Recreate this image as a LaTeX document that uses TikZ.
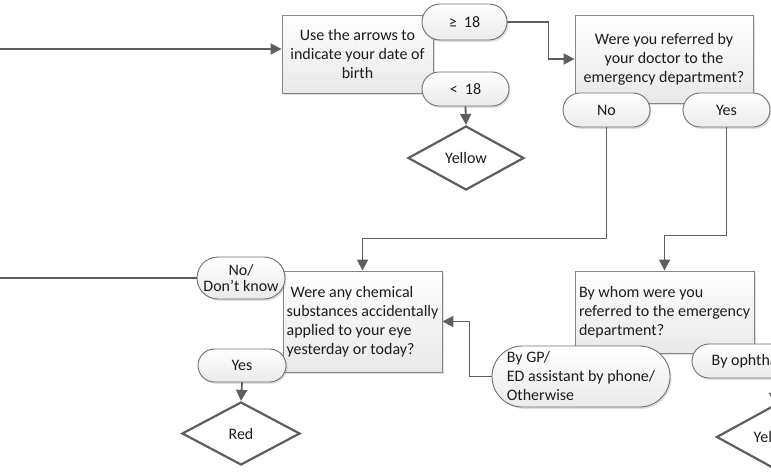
\documentclass[tikz,border=0pt]{standalone}
\usepackage{fontspec}
\setmainfont{Carlito}
\usetikzlibrary{shapes.geometric,shapes.misc,arrows.meta,shadows}

\definecolor{lineclr}{HTML}{5E5E5E}
\definecolor{boxline}{HTML}{868686}
\definecolor{pillline}{HTML}{707070}
\definecolor{txt}{HTML}{1C1C1C}

\tikzset{
  every node/.style={font=\fontsize{16}{19}\selectfont, text=txt},
  softshadow/.style={drop shadow={shadow xshift=1.5pt, shadow yshift=-1.8pt, opacity=0.22, fill=black!60}},
  qbox/.style={rectangle, draw=boxline, line width=0.9pt, top color=white,
    bottom color=black!9, inner sep=0pt, softshadow},
  pill/.style={rounded rectangle, draw=pillline, line width=0.9pt, top color=white,
    bottom color=black!8, inner sep=0pt, softshadow},
  outcome/.style={diamond, draw=lineclr, line width=2.2pt, fill=white, inner sep=0pt,
    minimum width=116pt, minimum height=64pt},
  link/.style={draw=lineclr, line width=1.8pt},
  conn/.style={link, -{Triangle[length=11pt,width=11pt]}}
}

\begin{document}
\begin{tikzpicture}[x=1pt,y=-1pt]
\useasboundingbox (0,0) rectangle (771,473);
\clip (0,0) rectangle (771,473);

% question boxes
\node[qbox, minimum width=151pt, minimum height=78pt, align=center] (dob) at (357.5,54)
  {Use the arrows to\\indicate your date of\\birth};
\node[qbox, minimum width=178pt, minimum height=88pt, align=center] (ref) at (664,59)
  {Were you referred by\\your doctor to the\\emergency department?};
\node[qbox, minimum width=159pt, minimum height=101pt, align=left] (chem) at (362.5,321.5)
  {\hspace*{4pt}Were any chemical\\substances accidentally\\applied to your eye\\yesterday or today?};
\node[qbox, minimum width=179pt, minimum height=82pt, align=left] (whom) at (664.5,312)
  {By whom were you\\referred to the emergency\\department?};

% answer pills
\node[pill, minimum width=85pt, minimum height=36pt] (ge) at (464.5,22) {≥\ \ 18};
\node[pill, minimum width=87pt, minimum height=34pt] (lt) at (465.5,89) {<\ \ 18};
\node[pill, minimum width=87pt, minimum height=34pt] (no) at (606.5,110) {No};
\node[pill, minimum width=87pt, minimum height=34pt] (yes) at (726.5,110) {Yes};
\node[pill, minimum width=88pt, minimum height=42pt, align=center,
  font=\fontsize{16}{16.5}\selectfont] (nodk) at (241,278) {No/\\Don’t know};
\node[pill, minimum width=88pt, minimum height=33pt] (yes2) at (242,365.5) {Yes};
\node[pill, minimum width=178pt, minimum height=61pt, align=left] (gp) at (581,376.5)
  {By GP/\\ED assistant by phone/\\Otherwise};
\node[pill, minimum width=165pt, minimum height=34pt] (oph) at (774.5,361) {By ophthalmologist};

% outcomes
\node[outcome] (yel1) at (466,158) {Yellow};
\node[outcome, minimum width=118pt, minimum height=63pt] (red) at (241,433.5) {Red};
\node[outcome] (yel2) at (774.5,437) {Yellow};

% connectors
\coordinate (start) at (0,49);
\coordinate (exit) at (0,278);
\draw[conn] (start) -- (start -| dob.west);
\draw[conn] (ge.east) -- ++(41,0) |- (ref.west);
\draw[conn] (lt.south) -- (yel1.north);
\draw[conn] (no.south) -- ++(0,111) -| (chem.north);
\draw[conn] (yes.south) -- ++(0,108) -| (whom.north);
\draw[conn] (gp.west) -- ++(-22,0) |- (chem.east);
\draw[link] (nodk.west) -- (exit);
\draw[conn] (yes2.south) -- (red.north);
\draw[conn] (oph.south) -- (yel2.north);
\end{tikzpicture}
\end{document}
